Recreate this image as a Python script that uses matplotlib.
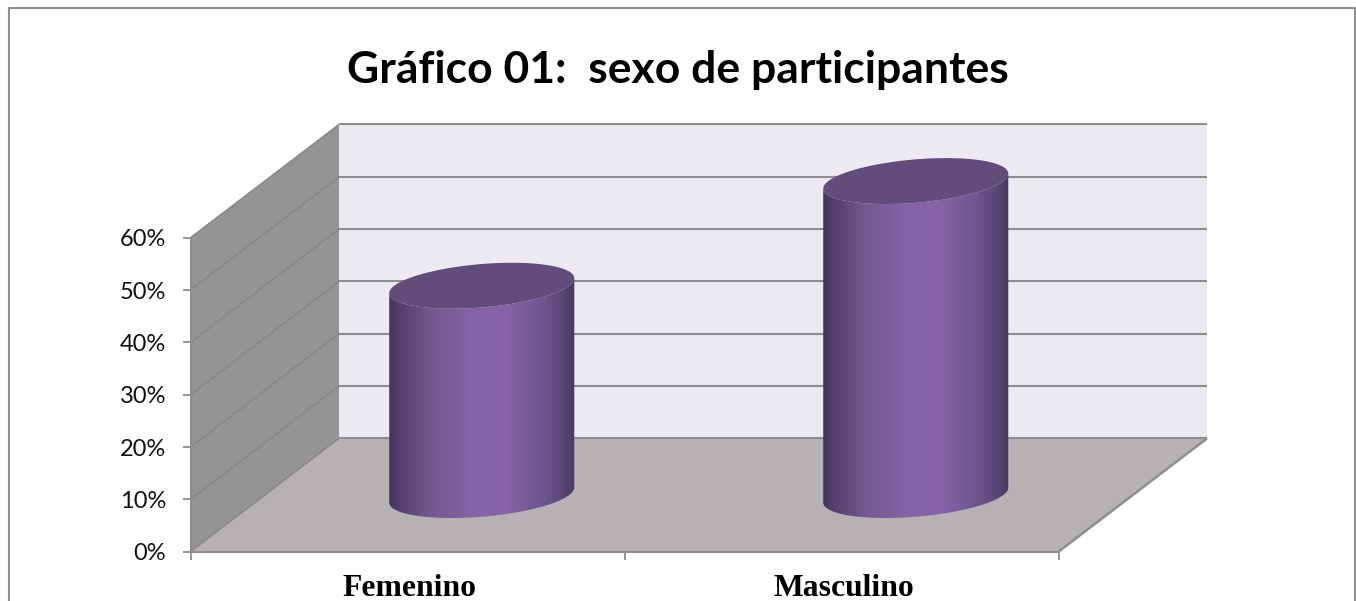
import numpy as np
import matplotlib
matplotlib.use("Agg")
import matplotlib.pyplot as plt
from matplotlib.colors import LinearSegmentedColormap
from matplotlib.lines import Line2D
from matplotlib.patches import PathPatch, Polygon
from matplotlib.path import Path
from matplotlib.transforms import IdentityTransform

categories = ["Femenino", "Masculino"]
values = [40, 60]
y_ticks = [0, 10, 20, 30, 40, 50, 60]
y_tick_labels = ["0%", "10%", "20%", "30%", "40%", "50%", "60%"]
title = "Gráfico 01:  sexo de participantes"

W, H = 1356, 601
DEPTH_X, DEPTH_Y = 148.5, 113.3
GREY = "#8e8e8e"
IDENT = IdentityTransform()

fig = plt.figure(figsize=(W / 100, H / 100), dpi=100, facecolor="white")
ax = fig.add_axes([190.5 / W, (H - 551.7) / H, 868.0 / W, 314.0 / H])
ax.set_xlim(0, len(categories))
ax.set_ylim(0, 60)
ax.patch.set_visible(False)
fig.canvas.draw()


def px(x, y, depth=0.0):
    p = ax.transData.transform((x, y))
    return p[0] + DEPTH_X * depth, p[1] + DEPTH_Y * depth


def poly(points, color, z):
    ax.add_patch(Polygon(points, closed=True, facecolor=color, edgecolor="none",
                         transform=IDENT, zorder=z, clip_on=False))


n = len(categories)
ymax = y_ticks[-1]
# walls and floor
poly([px(0, 0, 1), px(n, 0, 1), px(n, ymax, 1), px(0, ymax, 1)], "#ece9f1", 1)
poly([px(0, 0), px(0, ymax), px(0, ymax, 1), px(0, 0, 1)], "#959396", 1)
poly([px(0, 0), px(n, 0), px(n, 0, 1), px(0, 0, 1)], "#b5b1b5", 1)


def seg(points, lw=1.5, z=2, color=GREY):
    xs, ys = zip(*points)
    ax.add_line(Line2D(xs, ys, color=color, lw=lw, transform=IDENT, zorder=z,
                       clip_on=False, solid_capstyle="butt"))


for v in y_ticks:
    seg([px(n, v, 1), px(0, v, 1)])
    if v > 0:
        seg([px(0, v, 1), px(0, v)], lw=1.0, color="#858587")
seg([px(0, 0), px(0, 0, 1)], lw=1.0, color="#858587")
seg([px(n, 0), px(n, 0, 1)], lw=1.8)

# cylinders
cmap = LinearSegmentedColormap.from_list(
    "cyl",
    [(0.0, "#45365e"), (0.06, "#553f6f"), (0.22, "#73598f"), (0.45, "#8563a7"),
     (0.62, "#8764a8"), (0.82, "#6f5690"), (0.94, "#5a4674"), (1.0, "#483a5e")])
grad = np.linspace(0, 1, 256)[None, :]
t = np.linspace(0, 2 * np.pi, 200)
t_lower = np.linspace(0, np.pi, 100)  # front half of the ellipse, right to left
half_w_frac = 0.1066
tilt = 7.5
minor = 21.7
for i, val in enumerate(values):
    x0 = i + 0.5
    cx, base_y = px(x0, 0, 0.5)
    _, top_y = px(x0, val, 0.5)
    a = half_w_frac * 868.0

    def ell(tt, cy):
        return cx + a * np.cos(tt), cy + tilt * np.cos(tt) - minor * np.sin(tt)

    xb, yb = ell(t_lower, base_y)
    xt, yt = ell(t_lower[::-1], top_y)
    body = np.column_stack([np.r_[xb, xt], np.r_[yb, yt]])
    clip = PathPatch(Path(np.vstack([body, body[0]])), transform=IDENT, facecolor="none",
                     edgecolor="none")
    ax.add_patch(clip)
    im = ax.imshow(grad, cmap=cmap, aspect="auto", zorder=3, transform=IDENT,
                   extent=(cx - a, cx + a, base_y - 30, top_y + 30),
                   interpolation="bilinear")
    im.set_clip_box(fig.bbox)
    im.set_clip_path(clip)
    xe, ye = ell(t, top_y)
    poly(np.column_stack([xe, ye]), "#624c7c", 4)

ax.set_xlim(0, n)
ax.set_ylim(0, ymax)
ax.set_aspect("auto")

# axes
for side in ("top", "right"):
    ax.spines[side].set_visible(False)
for side in ("left", "bottom"):
    ax.spines[side].set_color(GREY)
    ax.spines[side].set_linewidth(1.5)
    ax.spines[side].set_zorder(5)
ax.set_yticks(y_ticks)
ax.set_yticklabels(y_tick_labels, fontfamily="Lato", fontsize=17, color="#111111")
ax.set_xticks(range(n + 1))
ax.set_xticklabels([""] * (n + 1))
ax.tick_params(axis="both", direction="out", length=5.5, width=1.3, color=GREY)
ax.tick_params(axis="y", pad=12)
for i, c in enumerate(categories):
    ax.annotate(c, xy=(i + 0.5, 0), xycoords="data", xytext=(2, -44), textcoords="offset pixels",
                ha="center", va="baseline", fontfamily="Liberation Serif", fontweight="bold",
                fontsize=22.8, color="black", annotation_clip=False)

fig.text(678 / W, (H - 70) / H, title, ha="center", va="center", fontfamily="Lato",
         fontweight="bold", fontsize=32, color="black")

# chart frame
fig.add_artist(Line2D([8.5, 8.5, 1355, 1355], [-5, H - 7.5, H - 7.5, -5], color="#8f8f8f",
                      lw=1.5, transform=IDENT))

fig.savefig("out.png", dpi=100, facecolor="white")
